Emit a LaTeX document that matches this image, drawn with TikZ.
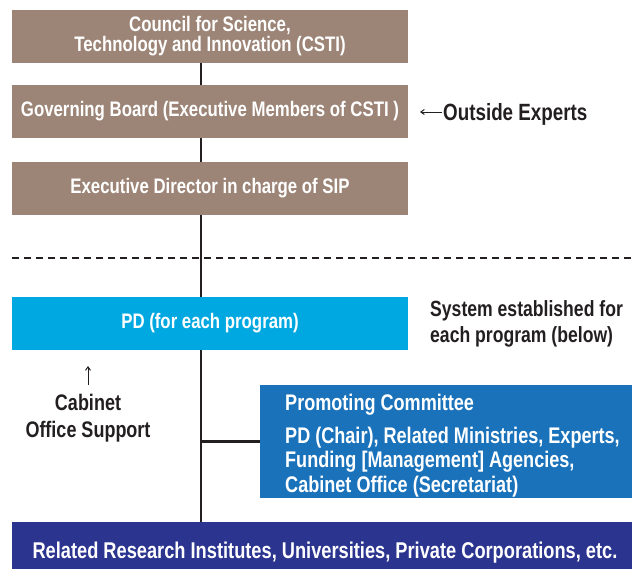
\documentclass[tikz,border=0pt]{standalone}
\usepackage{fontspec}
\setmainfont{Liberation Sans}[FakeStretch=0.8]
\usetikzlibrary{arrows.meta}

\definecolor{orgbrown}{HTML}{9C8577}
\definecolor{pdcyan}{HTML}{00A8E1}
\definecolor{commblue}{HTML}{1A72BB}
\definecolor{basenavy}{HTML}{2B3590}
\definecolor{inkdark}{HTML}{231F20}

\tikzset{
  boxfont/.style={font=\bfseries\fontsize{21}{20.5}\selectfont},
  orgbox/.style={rectangle, inner sep=0pt, minimum width=396pt,
    minimum height=53pt, text=white, align=center, boxfont},
  tierbox/.style={orgbox, fill=orgbrown},
  pdbox/.style={orgbox, fill=pdcyan},
  commbox/.style={rectangle, inner sep=0pt, minimum width=372pt,
    minimum height=113pt, fill=commblue},
  commtext/.style={inner sep=0pt, text=white, align=left,
    font=\bfseries\fontsize{22.6}{24.5}\selectfont},
  basebox/.style={rectangle, inner sep=0pt, minimum width=620pt,
    minimum height=61pt, fill=basenavy, text=white,
    font=\bfseries\fontsize{22.8}{22}\selectfont},
  note/.style={text=inkdark, inner sep=0pt},
  link/.style={draw=inkdark, line width=2.2pt},
  pointer/.style={draw=inkdark, line width=1pt,
    -{Straight Barb[length=3.5pt,width=5pt]}},
}

\begin{document}
\begin{tikzpicture}[x=1pt,y=-1pt]
  \useasboundingbox (0,0) rectangle (632,568);

  % governance tiers
  \node[tierbox] (csti) at (210,36)
    {Council for Science,\\Technology and Innovation (CSTI)};
  \node[tierbox] (board) at (210,111.5)
    {Governing Board (Executive Members of CSTI )};
  \node[tierbox] (director) at (210,188.5)
    {Executive Director in charge of SIP};

  % per-program system
  \node[pdbox] (pd) at (210,323.5) {PD (for each program)};
  \node[commbox] (comm) at (446,441.5) {};
  \node[commtext, anchor=base west] (commtitle) at (285,410)
    {Promoting Committee};
  \node[commtext, anchor=west] (commmembers) at (285,462)
    {PD (Chair), Related Ministries, Experts,\\
     Funding [Management] Agencies,\\
     Cabinet Office (Secretariat)};
  \node[basebox] (base) at (322,552.5)
    {\hspace*{6pt}Related Research Institutes, Universities, Private Corporations, etc.};

  % side notes
  \node[note, anchor=west, font=\bfseries\fontsize{23.5}{23}\selectfont]
    (experts) at (443,114) {Outside Experts};
  \node[note, anchor=west, align=left,
    font=\bfseries\fontsize{22}{26}\selectfont]
    (system) at (430,324) {System established for\\each program (below)};
  \node[note, align=center, font=\bfseries\fontsize{22.5}{27}\selectfont]
    (cabinet) at (88,418) {Cabinet\\Office Support};

  % spine connecting the tiers
  \coordinate (spine) at (201,0);
  \draw[link] (csti.south -| spine) -- (board.north -| spine);
  \draw[link] (board.south -| spine) -- (director.north -| spine);
  \draw[link] (director.south -| spine) -- (pd.north -| spine);
  \draw[link] (pd.south -| spine) -- (base.north -| spine);
  \draw[link] (spine |- comm.west) -- (comm.west);

  % separator between CSTI level and program level
  \coordinate (sepL) at (12,258);
  \coordinate (sepR) at (632,258);
  \draw[draw=inkdark, line width=1.3pt, dash pattern=on 7pt off 5pt]
    (sepL) -- (sepR);

  % small arrows
  \coordinate (expertsTip) at (420,112);
  \draw[pointer] ([xshift=-1pt]experts.west |- expertsTip) -- (expertsTip);
  \coordinate (cabinetTip) at (88,366);
  \draw[pointer] ([yshift=9pt]cabinet.north) -- (cabinetTip);
\end{tikzpicture}
\end{document}
